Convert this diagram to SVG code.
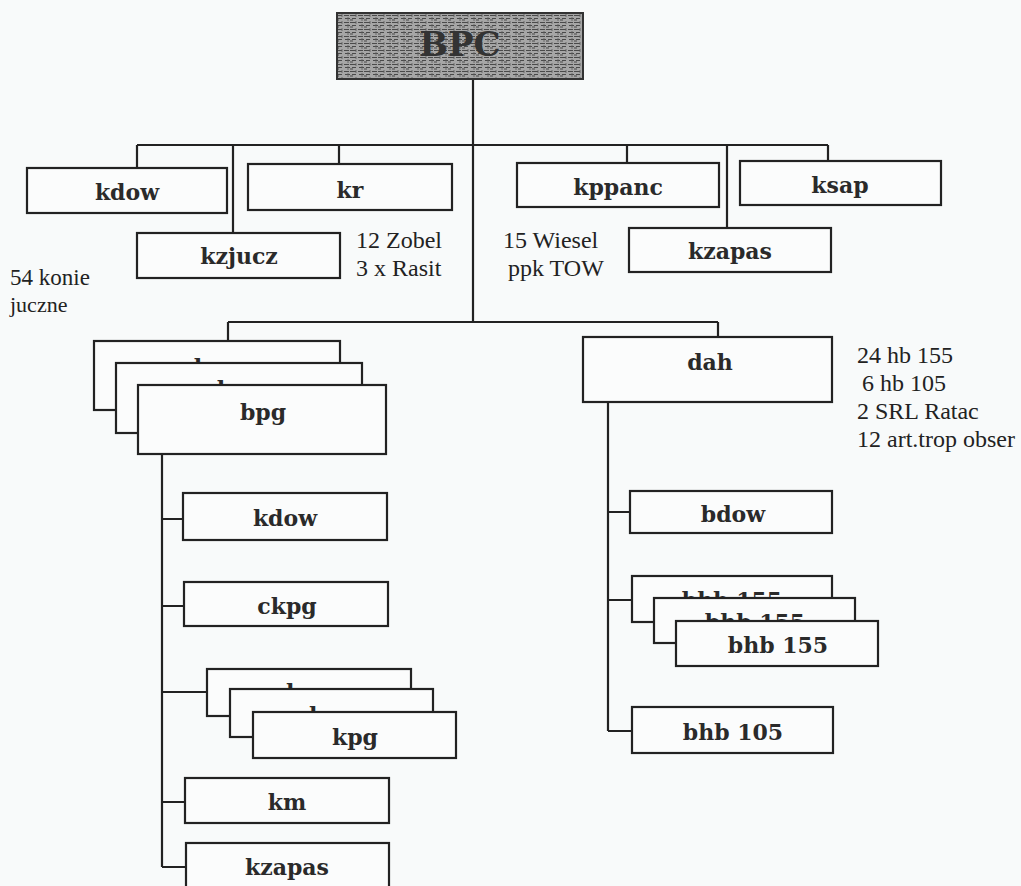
<svg xmlns="http://www.w3.org/2000/svg" width="1021" height="886" viewBox="0 0 1021 886">
<style>
.bx{fill:#fbfcfc;stroke:#222;stroke-width:2.2}
.ln{fill:none;stroke:#222;stroke-width:2.2}
.lb{font-family:"DejaVu Serif","Liberation Serif",serif;font-weight:bold;font-size:22px;fill:#2a2a2a;text-anchor:middle}
.an{font-family:"Liberation Serif","Times New Roman",serif;font-size:24px;fill:#222}
</style>
<defs>
<pattern id="tex" width="14" height="7" patternUnits="userSpaceOnUse">
<rect width="14" height="7" fill="#a6a6a6"/>
<path d="M0 1.5h6M8 1.5h5M2 4.5h4M9 4.5h5M0 6h3" stroke="#4a4a4a" stroke-width="1"/>
<path d="M6 0v3M12 3v4" stroke="#5a5a5a" stroke-width="0.8"/>
</pattern>
</defs>
<rect width="1021" height="886" fill="#f8fafa"/>

<g id="connectors">
<path class="ln" d="M473 79V322"/>
<path class="ln" d="M137 145H828"/>
<path class="ln" d="M137 145V168M233 145V233M339 145V164"/>
<path class="ln" d="M627 145V163M727 145V228M828 145V161"/>
<path class="ln" d="M228 322H718M228 322V341M718 322V337"/>
<path class="ln" d="M162 454V867"/>
<path class="ln" d="M162 519H183M162 606H184M162 692H207M162 802H185M162 867H186"/>
<path class="ln" d="M608 402V731"/>
<path class="ln" d="M608 512H630M608 600H632M608 731H632"/>
</g>

<g id="node-bpc">
<rect x="337" y="13" width="246" height="66" fill="url(#tex)" stroke="#333" stroke-width="2"/>
<text x="460" y="56" class="lb" style="font-size:34px;fill:#333">BPC</text>
</g>

<g id="node-kdow-top"><rect class="bx" x="27" y="168" width="200" height="45"/><text class="lb" x="127" y="200">kdow</text></g>
<g id="node-kr"><rect class="bx" x="248" y="164" width="204" height="46"/><text class="lb" x="350" y="198">kr</text></g>
<g id="node-kzjucz"><rect class="bx" x="137" y="233" width="203" height="45"/><text class="lb" x="239" y="264">kzjucz</text></g>
<g id="node-kppanc"><rect class="bx" x="517" y="163" width="202" height="44"/><text class="lb" x="618" y="195">kppanc</text></g>
<g id="node-ksap"><rect class="bx" x="740" y="161" width="201" height="44"/><text class="lb" x="840" y="193">ksap</text></g>
<g id="node-kzapas-top"><rect class="bx" x="629" y="228" width="202" height="44"/><text class="lb" x="730" y="259">kzapas</text></g>

<g id="annotations">
<text class="an" x="356" y="248">12 Zobel</text>
<text class="an" x="356" y="276">3 x Rasit</text>
<text class="an" x="503" y="248">15 Wiesel</text>
<text class="an" x="508" y="276">ppk TOW</text>
<text class="an" x="10" y="285" style="font-size:23px">54 konie</text>
<text class="an" x="10" y="312" style="font-size:22px">juczne</text>
<text class="an" x="857" y="363">24 hb 155</text>
<text class="an" x="862" y="391">6  hb 105</text>
<text class="an" x="857" y="419">2 SRL Ratac</text>
<text class="an" x="857" y="447">12 art.trop obser</text>
</g>

<g id="node-bpg">
<rect class="bx" x="94" y="341" width="246" height="69"/><text class="lb" x="217" y="375">bpg</text>
<rect class="bx" x="116" y="363" width="246" height="70"/><text class="lb" x="240" y="397">bpg</text>
<rect class="bx" x="138" y="385" width="248" height="69"/><text class="lb" x="263" y="420">bpg</text>
</g>

<g id="node-kdow-bpg"><rect class="bx" x="183" y="493" width="204" height="47"/><text class="lb" x="285" y="526">kdow</text></g>
<g id="node-ckpg"><rect class="bx" x="184" y="582" width="204" height="44"/><text class="lb" x="287" y="614">ckpg</text></g>
<g id="node-kpg">
<rect class="bx" x="207" y="669" width="204" height="47"/><text class="lb" x="309" y="700">kpg</text>
<rect class="bx" x="230" y="689" width="203" height="48"/><text class="lb" x="332" y="723">kpg</text>
<rect class="bx" x="253" y="712" width="203" height="46"/><text class="lb" x="355" y="745">kpg</text>
</g>
<g id="node-km"><rect class="bx" x="185" y="778" width="204" height="45"/><text class="lb" x="287" y="810">km</text></g>
<g id="node-kzapas-bpg"><rect class="bx" x="186" y="843" width="203" height="48"/><text class="lb" x="287" y="875">kzapas</text></g>

<g id="node-dah"><rect class="bx" x="583" y="337" width="249" height="65"/><text class="lb" x="710" y="370">dah</text></g>
<g id="node-bdow"><rect class="bx" x="630" y="491" width="202" height="42"/><text class="lb" x="733" y="522">bdow</text></g>
<g id="node-bhb155">
<rect class="bx" x="632" y="576" width="200" height="46"/><text class="lb" x="732" y="608">bhb 155</text>
<rect class="bx" x="654" y="598" width="201" height="45"/><text class="lb" x="755" y="630">bhb 155</text>
<rect class="bx" x="676" y="621" width="202" height="45"/><text class="lb" x="778" y="653">bhb 155</text>
</g>
<g id="node-bhb105"><rect class="bx" x="632" y="707" width="201" height="46"/><text class="lb" x="733" y="740">bhb 105</text></g>
</svg>
